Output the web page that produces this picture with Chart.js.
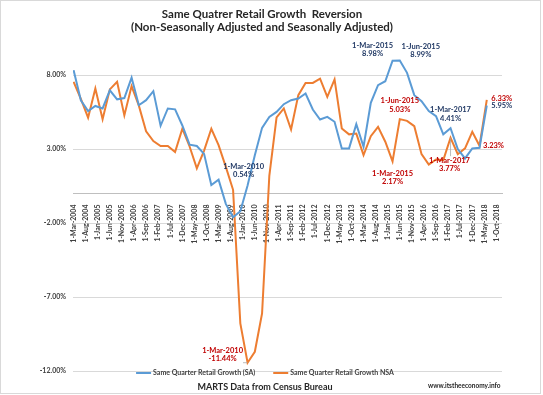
<!DOCTYPE html>
<html>
<head>
<meta charset="utf-8">
<script src="https://cdn.jsdelivr.net/npm/chart.js@4.4.0/dist/chart.umd.min.js"></script>
<style>
html, body { margin: 0; padding: 0; background: #fff; }
</style>
</head>
<body>
<canvas id="myChart" width="543" height="395"></canvas>
<script>
// quarters (year-month), Mar 2004 .. Jun 2018
const quarters = [
  '2004-03','2004-06','2004-09','2004-12','2005-03','2005-06','2005-09','2005-12',
  '2006-03','2006-06','2006-09','2006-12','2007-03','2007-06','2007-09','2007-12',
  '2008-03','2008-06','2008-09','2008-12','2009-03','2009-06','2009-09','2009-12',
  '2010-03','2010-06','2010-09','2010-12','2011-03','2011-06','2011-09','2011-12',
  '2012-03','2012-06','2012-09','2012-12','2013-03','2013-06','2013-09','2013-12',
  '2014-03','2014-06','2014-09','2014-12','2015-03','2015-06','2015-09','2015-12',
  '2016-03','2016-06','2016-09','2016-12','2017-03','2017-06','2017-09','2017-12',
  '2018-03','2018-06'
];

// Same Quarter Retail Growth (SA)
const saGrowth = [
  8.34, 6.30, 5.57, 5.92, 5.75, 6.98, 6.37, 6.45,
  7.83, 5.97, 6.31, 6.92, 4.58, 5.75, 5.69, 4.60,
  3.30, 3.21, 2.68, 0.57, 0.93, -0.70, -1.60, -1.20,
  0.54, 2.59, 4.44, 5.18, 5.52, 6.04, 6.31, 6.42,
  6.76, 5.68, 5.00, 5.18, 4.85, 3.05, 3.05, 4.69,
  3.16, 6.13, 7.32, 7.59, 8.98, 8.99, 8.16, 6.65,
  6.24, 5.57, 5.23, 4.00, 4.41, 3.00, 2.37, 3.05,
  3.09, 5.95
];

// Same Quarter Retail Growth NSA
const nsaGrowth = [
  7.55, 6.40, 5.13, 7.10, 5.03, 7.04, 7.55, 5.28,
  7.26, 5.94, 4.20, 3.55, 3.21, 3.21, 2.80, 4.38,
  3.18, 1.70, 2.90, 4.38, 3.27, 1.80, 0.25, -8.78,
  -11.44, -10.70, -8.10, 1.20, 5.14, 5.75, 4.33, 6.65,
  7.48, 7.48, 7.77, 6.54, 7.71, 4.40, 4.00, 4.05,
  2.60, 3.88, 4.51, 3.50, 2.17, 5.03, 4.91, 4.55,
  2.66, 1.96, 2.30, 2.26, 3.77, 2.66, 3.05, 4.17,
  3.23, 6.33
];

const tickLabels = [
  '1-Mar-2004','1-Aug-2004','1-Jan-2005','1-Jun-2005','1-Nov-2005','1-Apr-2006',
  '1-Sep-2006','1-Feb-2007','1-Jul-2007','1-Dec-2007','1-May-2008','1-Oct-2008',
  '1-Mar-2009','1-Aug-2009','1-Jan-2010','1-Jun-2010','1-Nov-2010','1-Apr-2011',
  '1-Sep-2011','1-Feb-2012','1-Jul-2012','1-Dec-2012','1-May-2013','1-Oct-2013',
  '1-Mar-2014','1-Aug-2014','1-Jan-2015','1-Jun-2015','1-Nov-2015','1-Apr-2016',
  '1-Sep-2016','1-Feb-2017','1-Jul-2017','1-Dec-2017','1-May-2018','1-Oct-2018'
];
const yTicks = [-12, -7, -2, 3, 8];

const seriesNames = ['Same Quarter Retail Growth (SA)', 'Same Quarter Retail Growth NSA'];

// callouts: dataset, point index
const notes = [
  {ds: 0, i: 44, date: true, dx: -20, dy: -11},
  {ds: 0, i: 45, date: true, dx: 21, dy: -10},
  {ds: 0, i: 52, date: true, dx: 0, dy: -14},
  {ds: 0, i: 57, date: false, dx: 15, dy: 0},
  {ds: 0, i: 24, date: true, dx: -4, dy: -15},
  {ds: 1, i: 24, date: true, dx: -25, dy: -8, leader: true},
  {ds: 1, i: 44, date: true, dx: 0, dy: 16},
  {ds: 1, i: 45, date: true, dx: 0, dy: -14},
  {ds: 1, i: 52, date: true, dx: -1, dy: 27, leader: true},
  {ds: 1, i: 56, date: false, dx: 14, dy: 0},
  {ds: 1, i: 57, date: false, dx: 15, dy: -1}
];

const MON = ['Jan','Feb','Mar','Apr','May','Jun','Jul','Aug','Sep','Oct','Nov','Dec'];
const FONT = 'Lato, "Open Sans", sans-serif';

// months since Mar 2004
function qMonth(q) {
  const p = q.split('-');
  return (+p[0] - 2004) * 12 + (+p[1] - 3);
}
function tickMonth(l) {
  const p = l.split('-');
  return (+p[2] - 2004) * 12 + MON.indexOf(p[1]) - 2;
}
function qLabel(q) {
  const p = q.split('-');
  return '1-' + MON[+p[1] - 1] + '-' + p[0];
}

const blue = '#5b9bd5';
const orange = '#ed7d31';
const noteColors = ['#203864', '#c00000'];

const extras = {
  id: 'extras',
  afterDatasetsDraw(chart) {
    const ctx = chart.ctx;
    const vals = [saGrowth, nsaGrowth];
    ctx.save();
    ctx.font = 'bold 7.5px ' + FONT;
    ctx.textAlign = 'center';
    ctx.textBaseline = 'middle';
    notes.forEach(n => {
      const pt = chart.getDatasetMeta(n.ds).data[n.i];
      const lines = [];
      if (n.date) lines.push(qLabel(quarters[n.i]));
      lines.push(vals[n.ds][n.i].toFixed(2) + '%');
      const lh = 8.6;
      const cx = pt.x + n.dx, cy = pt.y + n.dy;
      const top = cy - lines.length * lh / 2;
      if (n.leader) {
        const w = Math.max(...lines.map(t => ctx.measureText(t).width));
        const bx = Math.min(Math.max(pt.x, cx - w / 2), cx + w / 2);
        const by = Math.min(Math.max(pt.y, top), top + lines.length * lh);
        ctx.strokeStyle = '#a6a6a6';
        ctx.lineWidth = 0.75;
        ctx.beginPath();
        ctx.moveTo(pt.x, pt.y);
        ctx.lineTo(bx, by);
        ctx.stroke();
      }
      ctx.fillStyle = noteColors[n.ds];
      lines.forEach((t, k) => ctx.fillText(t, cx, top + lh * (k + 0.5)));
    });
    ctx.restore();
  },
  afterDraw(chart) {
    const ctx = chart.ctx;
    ctx.save();
    // frame
    ctx.strokeStyle = '#d9d9d9';
    ctx.lineWidth = 1;
    ctx.strokeRect(0.5, 0.5, 540, 393);
    // title
    ctx.fillStyle = '#262626';
    ctx.textAlign = 'center';
    ctx.textBaseline = 'middle';
    ctx.font = 'bold 11.5px ' + FONT;
    ctx.fillText('Same Quatrer Retail Growth  Reversion', 262, 14);
    ctx.fillText('(Non-Seasonally Adjusted and Seasonally Adjusted)', 262, 27);
    // legend
    ctx.font = 'bold 7px ' + FONT;
    ctx.textAlign = 'left';
    const colors = [blue, orange];
    const widths = seriesNames.map(s => ctx.measureText(s).width);
    const total = widths[0] + widths[1] + 2 * 17 + 18;
    let x = 265 - total / 2;
    const ly = 373;
    seriesNames.forEach((s, k) => {
      ctx.strokeStyle = colors[k];
      ctx.lineWidth = 2;
      ctx.beginPath();
      ctx.moveTo(x, ly);
      ctx.lineTo(x + 15, ly);
      ctx.stroke();
      ctx.fillStyle = '#404040';
      ctx.fillText(s, x + 17, ly);
      x += 17 + widths[k] + 18;
    });
    // footer
    ctx.fillStyle = '#262626';
    ctx.textAlign = 'center';
    ctx.font = 'bold 9px ' + FONT;
    ctx.fillText('MARTS Data from Census Bureau', 265, 387);
    ctx.textAlign = 'left';
    ctx.font = 'bold 6.5px ' + FONT;
    ctx.fillText('www.itstheeconomy.info', 428, 386);
    ctx.restore();
  }
};

const ctx = document.getElementById('myChart').getContext('2d');
const myChart = new Chart(ctx, {
  type: 'line',
  data: {
    datasets: [{
      label: seriesNames[0],
      data: quarters.map((q, i) => ({x: qMonth(q), y: saGrowth[i]})),
      borderColor: blue,
      backgroundColor: blue,
      borderWidth: 2,
      pointRadius: 0,
      tension: 0
    }, {
      label: seriesNames[1],
      data: quarters.map((q, i) => ({x: qMonth(q), y: nsaGrowth[i]})),
      borderColor: orange,
      backgroundColor: orange,
      borderWidth: 2,
      pointRadius: 0,
      tension: 0
    }]
  },
  options: {
    responsive: false,
    animation: false,
    layout: { padding: { top: 53, right: 41, bottom: 24, left: 0 } },
    plugins: {
      legend: { display: false },
      title: { display: false },
      tooltip: { enabled: false }
    },
    scales: {
      x: {
        type: 'linear',
        position: { y: 0 },
        min: -0.25,
        max: 177.3,
        grid: { display: false },
        border: { display: true, color: '#bfbfbf', width: 1 },
        afterBuildTicks: s => { s.ticks = tickLabels.map(l => ({value: tickMonth(l)})); },
        ticks: {
          autoSkip: false,
          maxRotation: 90,
          minRotation: 90,
          padding: 3,
          color: '#404040',
          font: { family: FONT, size: 7, weight: 'bold' },
          callback: (v, i) => tickLabels[i]
        }
      },
      y: {
        min: -12,
        max: 9.5,
        afterFit: s => { s.width = 73; },
        afterBuildTicks: s => { s.ticks = yTicks.map(v => ({value: v})); },
        grid: { color: '#d9d9d9', drawTicks: false },
        border: { display: false },
        ticks: {
          padding: 7,
          color: '#404040',
          font: { family: FONT, size: 7, weight: 'bold' },
          callback: v => v.toFixed(2) + '%'
        }
      }
    }
  },
  plugins: [extras]
});
</script>
</body>
</html>
